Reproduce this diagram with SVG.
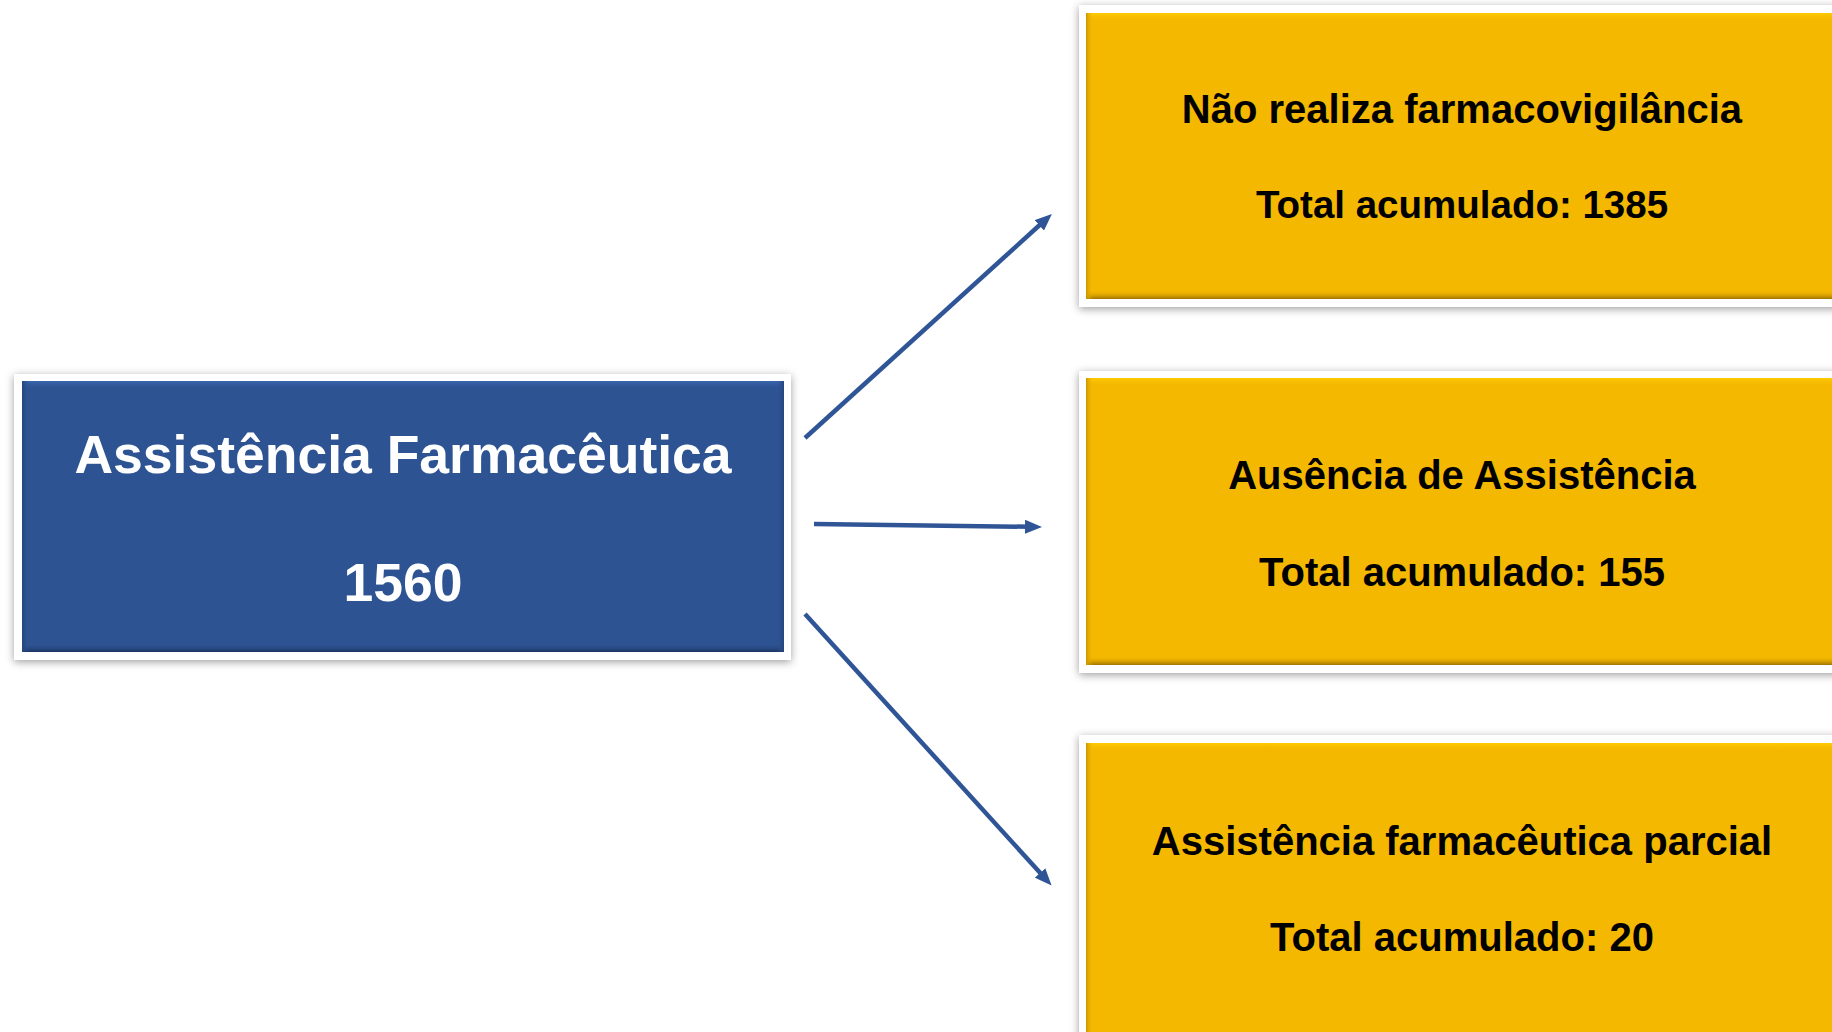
<svg xmlns="http://www.w3.org/2000/svg" width="1832" height="1032" viewBox="0 0 1832 1032">
  <defs>
    <filter id="shadow" x="-5%" y="-10%" width="110%" height="120%">
      <feDropShadow dx="0" dy="2" stdDeviation="4" flood-color="#000" flood-opacity="0.38"/>
    </filter>
    <linearGradient id="yTop" x1="0" y1="0" x2="0" y2="1">
      <stop offset="0" stop-color="#FFCC00"/>
      <stop offset="1" stop-color="#F5B800" stop-opacity="0"/>
    </linearGradient>
    <linearGradient id="yBot" x1="0" y1="0" x2="0" y2="1">
      <stop offset="0" stop-color="#F5B800" stop-opacity="0"/>
      <stop offset="1" stop-color="#9E7400"/>
    </linearGradient>
    <linearGradient id="yLeft" x1="0" y1="0" x2="1" y2="0">
      <stop offset="0" stop-color="#C99600"/>
      <stop offset="1" stop-color="#F5B800" stop-opacity="0"/>
    </linearGradient>
    <linearGradient id="bTop" x1="0" y1="0" x2="0" y2="1">
      <stop offset="0" stop-color="#3A66B0"/>
      <stop offset="1" stop-color="#2E5393" stop-opacity="0"/>
    </linearGradient>
    <linearGradient id="bBot" x1="0" y1="0" x2="0" y2="1">
      <stop offset="0" stop-color="#2E5393" stop-opacity="0"/>
      <stop offset="1" stop-color="#1B3460"/>
    </linearGradient>
    <linearGradient id="bLeft" x1="0" y1="0" x2="1" y2="0">
      <stop offset="0" stop-color="#24457C"/>
      <stop offset="1" stop-color="#2E5393" stop-opacity="0"/>
    </linearGradient>
    <linearGradient id="bRight" x1="1" y1="0" x2="0" y2="0">
      <stop offset="0" stop-color="#24457C"/>
      <stop offset="1" stop-color="#2E5393" stop-opacity="0"/>
    </linearGradient>
    <marker id="arrow" markerUnits="userSpaceOnUse" markerWidth="17" markerHeight="14" viewBox="0 0 17 14" refX="5" refY="7" orient="auto">
      <path d="M0,0 L17,7 L0,14 z" fill="#2F5597"/>
    </marker>
  </defs>
  <style>
    .frame { fill: #FFFFFF; filter: url(#shadow); }
    .blue { fill: #2E5393; }
    .yellow { fill: #F5B800; }
    .t-white { font-family: "Liberation Sans", Arial, sans-serif; font-weight: bold; fill: #FFFFFF; font-size: 53.5px; text-anchor: middle; }
    .t-black { font-family: "Liberation Sans", Arial, sans-serif; font-weight: bold; fill: #000000; font-size: 40px; text-anchor: middle; }
    .conn { stroke: #2F5597; stroke-width: 4.5; fill: none; marker-end: url(#arrow); }
  </style>
  <rect width="1832" height="1032" fill="#FFFFFF"/>

  <g id="node-assistencia">
    <rect class="frame" x="14" y="374" width="777" height="286"/>
    <rect class="blue" x="22" y="381" width="762" height="271"/>
    <rect x="22" y="381" width="762" height="8" fill="url(#bTop)"/>
    <rect x="22" y="643" width="762" height="9" fill="url(#bBot)"/>
    <rect x="22" y="381" width="7" height="271" fill="url(#bLeft)"/>
    <rect x="777" y="381" width="7" height="271" fill="url(#bRight)"/>
    <text class="t-white" x="403" y="473">Assistência Farmacêutica</text>
    <text class="t-white" x="403" y="601">1560</text>
  </g>

  <g id="node-nao-realiza">
    <rect class="frame" x="1079" y="5" width="770" height="302"/>
    <rect class="yellow" x="1086" y="13" width="760" height="286"/>
    <rect x="1086" y="13" width="760" height="8" fill="url(#yTop)"/>
    <rect x="1086" y="290" width="760" height="9" fill="url(#yBot)"/>
    <rect x="1086" y="13" width="7" height="286" fill="url(#yLeft)"/>
    <text class="t-black" x="1462" y="123">Não realiza farmacovigilância</text>
    <text class="t-black" x="1462" y="218" style="font-size:38.5px">Total acumulado: 1385</text>
  </g>

  <g id="node-ausencia">
    <rect class="frame" x="1079" y="371" width="770" height="302"/>
    <rect class="yellow" x="1086" y="378" width="760" height="287"/>
    <rect x="1086" y="378" width="760" height="8" fill="url(#yTop)"/>
    <rect x="1086" y="656" width="760" height="9" fill="url(#yBot)"/>
    <rect x="1086" y="378" width="7" height="287" fill="url(#yLeft)"/>
    <text class="t-black" x="1462" y="489">Ausência de Assistência</text>
    <text class="t-black" x="1462" y="586">Total acumulado: 155</text>
  </g>

  <g id="node-parcial">
    <rect class="frame" x="1079" y="735" width="770" height="310"/>
    <rect class="yellow" x="1086" y="743" width="760" height="300"/>
    <rect x="1086" y="743" width="760" height="8" fill="url(#yTop)"/>
    <rect x="1086" y="743" width="7" height="300" fill="url(#yLeft)"/>
    <text class="t-black" x="1462" y="855">Assistência farmacêutica parcial</text>
    <text class="t-black" x="1462" y="951">Total acumulado: 20</text>
  </g>

  <g id="connectors">
    <line class="conn" x1="805" y1="438" x2="1043" y2="222"/>
    <line class="conn" x1="814" y1="524" x2="1030" y2="526.8"/>
    <line class="conn" x1="805" y1="614" x2="1043.5" y2="876.6"/>
  </g>
</svg>
